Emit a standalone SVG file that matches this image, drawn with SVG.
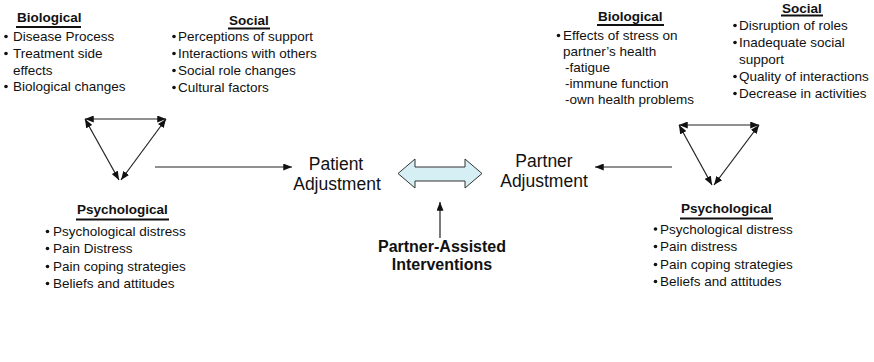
<svg xmlns="http://www.w3.org/2000/svg" width="874" height="362" viewBox="0 0 874 362">
  <style>
    text { font-family: "Liberation Sans", Arial, sans-serif; fill: #111; }
    .head { font-size: 13.5px; font-weight: bold; }
    .item { font-size: 13.5px; }
    .adj { font-size: 17.5px; text-anchor: middle; }
    .pai { font-size: 16px; font-weight: bold; text-anchor: middle; }
    .ul { stroke: #111; stroke-width: 2; }
    .dot { fill: #111; }
    .link { stroke: #222; stroke-width: 1.2; fill: none; }
    .both { marker-start: url(#tip); marker-end: url(#tip); }
    .one { marker-end: url(#tip); }
    .dbl { fill: #d6eff4; stroke: #333; stroke-width: 1; }
  </style>
  <defs>
    <marker id="tip" viewBox="0 0 10 8" refX="10" refY="4" markerWidth="9" markerHeight="7" markerUnits="userSpaceOnUse" orient="auto-start-reverse">
      <path d="M0,0 L10,4 L0,8 z" fill="#111"/>
    </marker>
  </defs>

  <rect width="874" height="362" fill="#fff"/>

  <!-- Patient side: biological factors -->
  <g id="patient-biological">
    <text class="head" x="17" y="21.5">Biological</text>
    <line class="ul" x1="16" y1="27" x2="81" y2="27"/>
    <circle class="dot" cx="6" cy="36.5" r="1.8"/>
    <text class="item" x="13" y="41">Disease Process</text>
    <circle class="dot" cx="6" cy="53.5" r="1.8"/>
    <text class="item" x="13" y="58">Treatment side</text>
    <text class="item" x="13" y="74.5">effects</text>
    <circle class="dot" cx="6" cy="86.5" r="1.8"/>
    <text class="item" x="13" y="91">Biological changes</text>
  </g>

  <!-- Patient side: social factors -->
  <g id="patient-social">
    <text class="head" x="229" y="25">Social</text>
    <line class="ul" x1="228" y1="28.5" x2="270" y2="28.5"/>
    <circle class="dot" cx="174" cy="36.5" r="1.8"/>
    <text class="item" x="178" y="41">Perceptions of support</text>
    <circle class="dot" cx="174" cy="53.5" r="1.8"/>
    <text class="item" x="178" y="58">Interactions with others</text>
    <circle class="dot" cx="174" cy="70.5" r="1.8"/>
    <text class="item" x="178" y="75">Social role changes</text>
    <circle class="dot" cx="174" cy="87.5" r="1.8"/>
    <text class="item" x="178" y="92">Cultural factors</text>
  </g>

  <!-- Patient side: psychological factors -->
  <g id="patient-psychological">
    <text class="head" x="77" y="214">Psychological</text>
    <line class="ul" x1="76" y1="219.5" x2="169" y2="219.5"/>
    <circle class="dot" cx="47.5" cy="231.5" r="1.8"/>
    <text class="item" x="53" y="236">Psychological distress</text>
    <circle class="dot" cx="47.5" cy="248.5" r="1.8"/>
    <text class="item" x="53" y="253">Pain Distress</text>
    <circle class="dot" cx="47.5" cy="266.5" r="1.8"/>
    <text class="item" x="53" y="271">Pain coping strategies</text>
    <circle class="dot" cx="47.5" cy="283.5" r="1.8"/>
    <text class="item" x="53" y="288">Beliefs and attitudes</text>
  </g>

  <g id="patient-adjustment">
    <text class="adj" x="336" y="170">Patient</text>
    <text class="adj" x="337" y="190">Adjustment</text>
  </g>

  <g id="partner-adjustment">
    <text class="adj" x="544" y="166.5">Partner</text>
    <text class="adj" x="544" y="186.5">Adjustment</text>
  </g>

  <g id="interventions">
    <text class="pai" x="442" y="252">Partner-Assisted</text>
    <text class="pai" x="442" y="270">Interventions</text>
  </g>

  <!-- Partner side: biological factors -->
  <g id="partner-biological">
    <text class="head" x="598" y="20.5">Biological</text>
    <line class="ul" x1="597" y1="25" x2="664" y2="25"/>
    <circle class="dot" cx="558.5" cy="35.5" r="1.8"/>
    <text class="item" x="563" y="40">Effects of stress on</text>
    <text class="item" x="563" y="56">partner’s health</text>
    <text class="item" x="565" y="72">-fatigue</text>
    <text class="item" x="565" y="88">-immune function</text>
    <text class="item" x="565" y="104">-own health problems</text>
  </g>

  <!-- Partner side: social factors -->
  <g id="partner-social">
    <text class="head" x="782" y="12.7">Social</text>
    <line class="ul" x1="781" y1="15.5" x2="823" y2="15.5"/>
    <circle class="dot" cx="735" cy="25.5" r="1.8"/>
    <text class="item" x="739" y="30">Disruption of roles</text>
    <circle class="dot" cx="735" cy="42.5" r="1.8"/>
    <text class="item" x="739" y="47">Inadequate social</text>
    <text class="item" x="739" y="64">support</text>
    <circle class="dot" cx="735" cy="76.5" r="1.8"/>
    <text class="item" x="739" y="81">Quality of interactions</text>
    <circle class="dot" cx="735" cy="93.5" r="1.8"/>
    <text class="item" x="739" y="98">Decrease in activities</text>
  </g>

  <!-- Partner side: psychological factors -->
  <g id="partner-psychological">
    <text class="head" x="681" y="213">Psychological</text>
    <line class="ul" x1="680" y1="218.5" x2="773" y2="218.5"/>
    <circle class="dot" cx="655.5" cy="229" r="1.8"/>
    <text class="item" x="660" y="233.5">Psychological distress</text>
    <circle class="dot" cx="655.5" cy="246.5" r="1.8"/>
    <text class="item" x="660" y="251">Pain distress</text>
    <circle class="dot" cx="655.5" cy="264.5" r="1.8"/>
    <text class="item" x="660" y="269">Pain coping strategies</text>
    <circle class="dot" cx="655.5" cy="281.5" r="1.8"/>
    <text class="item" x="660" y="286">Beliefs and attitudes</text>
  </g>

  <!-- Two-way link between patient and partner adjustment -->
  <g id="mutual-link">
    <polygon class="dbl" points="398,173.5 415,159 415,167 465,167 465,159 482,173.5 465,188 465,181 415,181 415,188"/>
  </g>

  <g id="connectors">
    <!-- patient triangle -->
    <line class="link both" x1="85" y1="119" x2="166" y2="119"/>
    <line class="link both" x1="85" y1="119" x2="119" y2="180"/>
    <line class="link both" x1="166" y1="119" x2="121" y2="180"/>
    <!-- partner triangle -->
    <line class="link both" x1="679" y1="125" x2="759" y2="125"/>
    <line class="link both" x1="679" y1="125" x2="712" y2="185"/>
    <line class="link both" x1="759" y1="125" x2="714" y2="185"/>
    <!-- into adjustment -->
    <line class="link one" x1="155" y1="167" x2="292" y2="167"/>
    <line class="link one" x1="672" y1="167" x2="595" y2="167"/>
    <line class="link one" x1="440" y1="238" x2="440" y2="202"/>
  </g>
</svg>
